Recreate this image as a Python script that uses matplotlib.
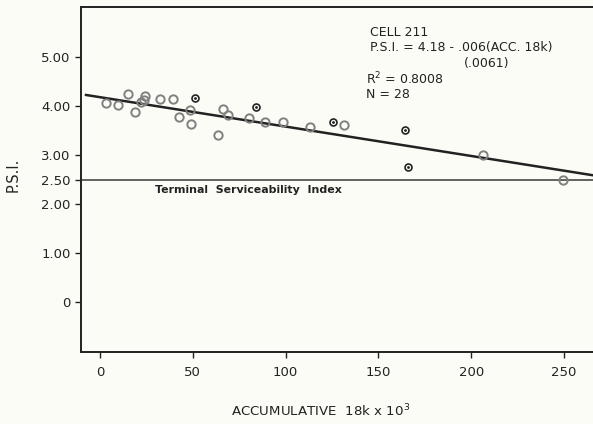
import matplotlib
matplotlib.use("Agg")
import matplotlib.pyplot as plt

# open (grey) circles
acc_open = [3.2, 9.7, 14.9, 18.9, 21.9, 23.7, 24.2, 32.3, 39.2, 42.6, 48.5, 48.9,
            63.8, 66.3, 69.0, 80.3, 88.9, 98.4, 113.1, 131.5, 206.5, 249.6]
psi_open = [4.06, 4.02, 4.24, 3.88, 4.09, 4.12, 4.20, 4.14, 4.14, 3.78, 3.92, 3.63,
            3.40, 3.93, 3.82, 3.76, 3.68, 3.67, 3.58, 3.61, 3.00, 2.48]

# dark circles with centre dot
acc_dot = [51.2, 84.3, 125.7, 164.3, 166.1]
psi_dot = [4.16, 3.98, 3.67, 3.52, 2.75]

intercept = 4.18
slope = -0.006
fit_x = [-7.5, 266]
tsi = 2.50

yticks = [0, 1, 2, 2.5, 3, 4, 5]
ytick_labels = ["0", "1.00", "2.00", "2.50", "3.00", "4.00", "5.00"]
xticks = [0, 50, 100, 150, 200, 250]

bg = "#fcfcf7"
ink = "#222222"
plt.rcParams["font.family"] = ["DejaVu Sans"]

fig = plt.figure(figsize=(5.93, 4.24), dpi=100, facecolor=bg)
ax = fig.add_axes([81 / 593, 1 - 352 / 424, 1 - 81 / 593, (352 - 7) / 424])
ax.set_facecolor(bg)

ax.set_xlim(-10.2, 265.6)
ax.set_ylim(-1.02, 6.02)

ax.axhline(tsi, color="#555555", lw=1.3, zorder=1)
fit_y = [intercept + slope * x for x in fit_x]
ax.plot(fit_x, fit_y, color=ink, lw=1.8, zorder=2)

ax.plot(acc_open, psi_open, "o", ms=6, mfc="none", mec="#808080", mew=1.4, zorder=3)
ax.plot(acc_dot, psi_dot, "o", ms=5, mfc="none", mec=ink, mew=1.2, zorder=3)
ax.plot(acc_dot, psi_dot, ".", ms=2, color=ink, zorder=3)

ax.set_yticks(yticks)
ax.set_yticklabels(ytick_labels)
ax.set_xticks(xticks)
ax.tick_params(direction="out", length=4, width=1, labelsize=9.5, colors=ink)
ax.tick_params(axis="x", pad=6)

ax.spines["right"].set_visible(False)
for s in ["left", "top", "bottom"]:
    ax.spines[s].set_linewidth(1.4)
    ax.spines[s].set_color(ink)

txt = dict(fontsize=9, color=ink, va="center", ha="left")
ax.text(145.5, 5.49, "CELL 211", **txt)
ax.text(145.5, 5.20, "P.S.I. = 4.18 - .006(ACC. 18k)", **txt)
ax.text(196.0, 4.87, "(.0061)", **txt)
ax.text(143.3, 4.55, "R$^2$ = 0.8008", **txt)
ax.text(143.3, 4.24, "N = 28", **txt)
ax.text(29.6, 2.29, "Terminal  Serviceability  Index", fontsize=7.9,
        fontweight="bold", color=ink, va="center", ha="left")

fig.text(13 / 593, 1 - 175 / 424, "P.S.I.", rotation=90, fontsize=10.5,
         color=ink, va="center", ha="center")
fig.text(321 / 593, 1 - 411 / 424, "ACCUMULATIVE  18k x 10$^3$", fontsize=9.6,
         color=ink, va="center", ha="center")

fig.savefig("out.png", dpi=100, facecolor=bg)
